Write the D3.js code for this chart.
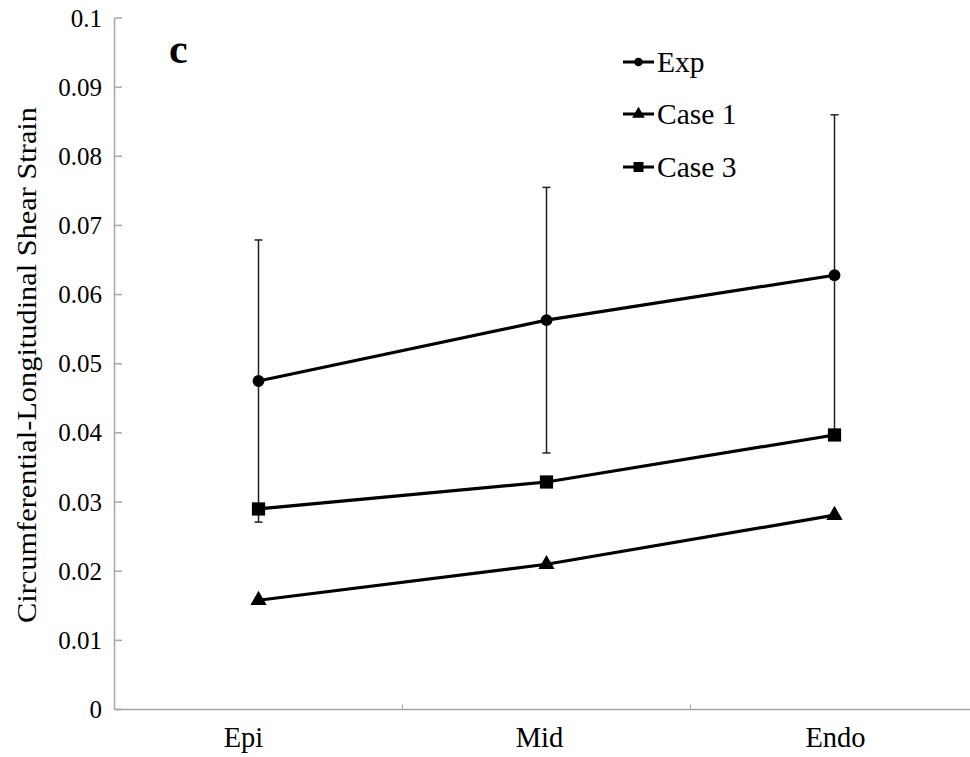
<!DOCTYPE html>
<html>
<head>
<meta charset="utf-8">
<script src="https://cdn.jsdelivr.net/npm/d3@7"></script>
<style>
  html, body { margin: 0; padding: 0; background: #fff; }
  svg text { font-family: "Liberation Serif", "Times New Roman", "DejaVu Serif", serif; }
</style>
</head>
<body>
<svg id="chart" width="970" height="757"></svg>
<script>
// Shear strain through the wall: experiment vs. two model cases
const categories = ["Epi", "Mid", "Endo"];
const expValues = [0.0475, 0.0563, 0.0628];
const expError = [0.0204, 0.0192, 0.0232];
const case1Values = [0.0158, 0.0210, 0.0281];
const case3Values = [0.0290, 0.0329, 0.0397];
const yTickValues = [0, 0.01, 0.02, 0.03, 0.04, 0.05, 0.06, 0.07, 0.08, 0.09, 0.1];
const seriesNames = ["Exp", "Case 1", "Case 3"];
const yTitle = "Circumferential-Longitudinal Shear Strain";
const panelLabel = "c";

const FONT = "'Liberation Serif', 'Times New Roman', serif";
const svg = d3.select("#chart");
const axisColor = "#a6a6a6";

const x = d3.scaleBand().domain(categories).range([114.5, 978.5]);
const y = d3.scaleLinear().domain([0, 0.1]).range([709.5, 18]);
const cx = c => x(c) + x.bandwidth() / 2;

// y axis: line with inward ticks
const gy = svg.append("g");
gy.append("line")
  .attr("x1", 114.5).attr("x2", 114.5)
  .attr("y1", y(0.1)).attr("y2", y(0))
  .attr("stroke", axisColor).attr("stroke-width", 1.5);
gy.selectAll("line.tick").data(yTickValues).join("line")
  .attr("class", "tick")
  .attr("x1", 114.5).attr("x2", 122)
  .attr("y1", d => y(d)).attr("y2", d => y(d))
  .attr("stroke", axisColor).attr("stroke-width", 1.5);
gy.selectAll("text").data(yTickValues).join("text")
  .attr("x", 102).attr("y", d => y(d) + 8.5)
  .attr("text-anchor", "end")
  .attr("font-family", FONT)
  .attr("font-size", 25)
  .attr("fill", "#000")
  .text(d => String(+d.toFixed(2)));

// x axis: baseline, boundary ticks between categories, labels
const gx = svg.append("g");
gx.append("line")
  .attr("x1", 114.5).attr("x2", 978.5)
  .attr("y1", y(0)).attr("y2", y(0))
  .attr("stroke", axisColor).attr("stroke-width", 1.5);
gx.selectAll("line.tick").data(categories.slice(1)).join("line")
  .attr("class", "tick")
  .attr("x1", d => x(d)).attr("x2", d => x(d))
  .attr("y1", y(0)).attr("y2", y(0) - 5)
  .attr("stroke", axisColor).attr("stroke-width", 1);
const labelShift = { Epi: -15, Mid: -7, Endo: 1 };
gx.selectAll("text").data(categories).join("text")
  .attr("x", d => cx(d) + labelShift[d])
  .attr("y", 747)
  .attr("text-anchor", "middle")
  .attr("font-family", FONT)
  .attr("font-size", 28.5)
  .attr("fill", "#000")
  .text(d => d);

// y axis title
svg.append("text")
  .attr("transform", "translate(36,365) rotate(-90)")
  .attr("text-anchor", "middle")
  .attr("font-family", FONT)
  .attr("font-size", 28)
  .attr("textLength", 516)
  .attr("lengthAdjust", "spacingAndGlyphs")
  .attr("fill", "#000")
  .text(yTitle);

// panel letter
svg.append("text")
  .attr("x", 169).attr("y", 63)
  .attr("font-family", FONT)
  .attr("font-size", 42)
  .attr("font-weight", "bold")
  .attr("fill", "#000")
  .text(panelLabel);

// error bars on the experimental series
const eb = svg.append("g").attr("stroke", "#222").attr("stroke-width", 1.5);
categories.forEach((c, i) => {
  const hi = y(expValues[i] + expError[i]);
  const lo = y(expValues[i] - expError[i]);
  eb.append("line").attr("x1", cx(c)).attr("x2", cx(c)).attr("y1", hi).attr("y2", lo);
  eb.append("line").attr("x1", cx(c) - 4).attr("x2", cx(c) + 4).attr("y1", hi).attr("y2", hi);
  eb.append("line").attr("x1", cx(c) - 4).attr("x2", cx(c) + 4).attr("y1", lo).attr("y2", lo);
});

const line = d3.line().x((d, i) => cx(categories[i])).y(d => y(d));
const series = [
  { name: seriesNames[0], values: expValues, symbol: d3.symbolCircle, size: 110, legendSize: 60 },
  { name: seriesNames[1], values: case1Values, symbol: d3.symbolTriangle, size: 115, legendSize: 70 },
  { name: seriesNames[2], values: case3Values, symbol: d3.symbolSquare, size: 175, legendSize: 100 }
];

series.forEach(s => {
  svg.append("path")
    .attr("d", line(s.values))
    .attr("fill", "none")
    .attr("stroke", "#000")
    .attr("stroke-width", 3.2);
  svg.append("g").selectAll("path").data(s.values).join("path")
    .attr("transform", (d, i) => `translate(${cx(categories[i])},${y(d)})`)
    .attr("d", d3.symbol().type(s.symbol).size(s.size))
    .attr("fill", "#000");
});

// legend
const legendY = [62, 114, 167];
const lg = svg.append("g");
series.forEach((s, i) => {
  const ly = legendY[i];
  lg.append("line")
    .attr("x1", 623).attr("x2", 654).attr("y1", ly).attr("y2", ly)
    .attr("stroke", "#000").attr("stroke-width", 3);
  lg.append("path")
    .attr("transform", `translate(638.5,${ly})`)
    .attr("d", d3.symbol().type(s.symbol).size(s.legendSize))
    .attr("fill", "#000");
  lg.append("text")
    .attr("x", 657).attr("y", ly + 9.5)
    .attr("font-family", FONT)
    .attr("font-size", 29.5)
    .attr("fill", "#000")
    .text(s.name);
});
</script>
</body>
</html>
